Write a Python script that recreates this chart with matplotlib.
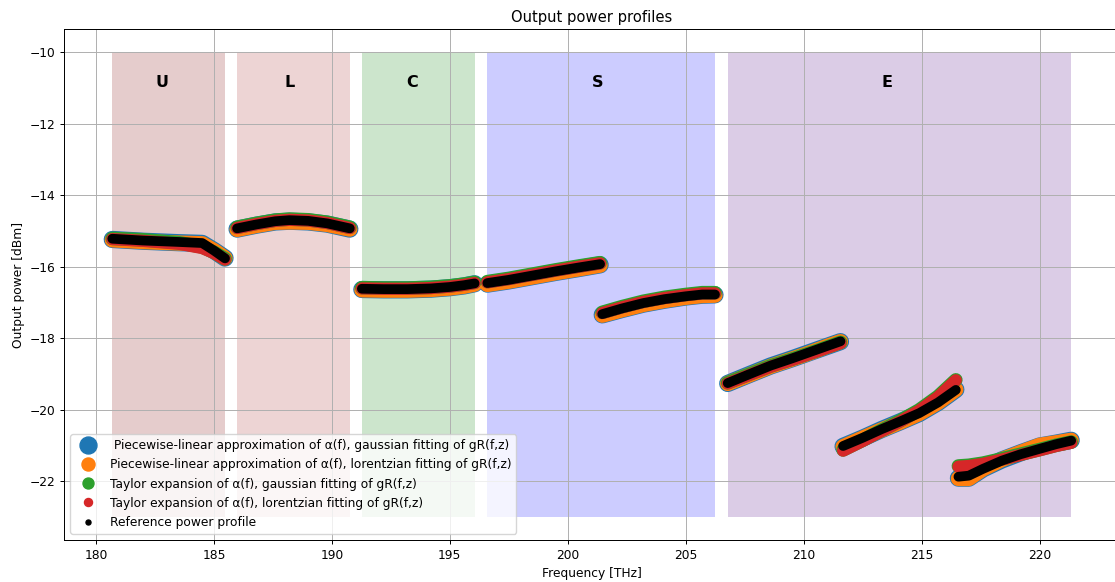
import matplotlib.pyplot as plt
from matplotlib.lines import Line2D

# the reference was rendered a little smaller than 100 dpi
SCALE = 0.886
plt.rcParams.update({
    "font.size": 10 * SCALE,
    "axes.linewidth": 0.8 * SCALE,
    "grid.linewidth": 0.8 * SCALE,
    "xtick.major.size": 3.5 * SCALE,
    "ytick.major.size": 3.5 * SCALE,
    "xtick.major.width": 0.8 * SCALE,
    "ytick.major.width": 0.8 * SCALE,
    "xtick.major.pad": 3.5 * SCALE,
    "ytick.major.pad": 3.5 * SCALE,
    "axes.titlepad": 6 * SCALE,
    "axes.labelpad": 4 * SCALE,
})

# frequency samples of each measured span [THz]
FREQ = [
    [180.69, 182.0, 183.5, 184.5, 185.0, 185.47],
    [185.98, 186.8, 187.6, 188.2, 189.0, 189.8, 190.76],
    [191.27, 192.2, 193.2, 194.2, 195.0, 195.6, 196.05],
    [196.59, 197.5, 198.5, 199.5, 200.5, 201.37],
    [201.46, 202.3, 203.2, 204.1, 205.0, 205.7, 206.24],
    [206.78, 207.7, 208.6, 209.5, 210.4, 211.0, 211.56],
    [211.67, 212.5, 213.3, 214.1, 214.9, 215.7, 216.45],
    [216.56, 217.0, 217.6, 218.4, 219.2, 220.0, 220.7, 221.34],
]

# output power [dBm]
P_REF = [
    [-15.22, -15.27, -15.31, -15.34, -15.55, -15.77],
    [-14.93, -14.82, -14.73, -14.70, -14.72, -14.79, -14.93],
    [-16.62, -16.63, -16.63, -16.61, -16.57, -16.52, -16.47],
    [-16.46, -16.37, -16.25, -16.13, -16.02, -15.93],
    [-17.33, -17.17, -17.02, -16.91, -16.83, -16.78, -16.78],
    [-19.26, -19.01, -18.77, -18.57, -18.36, -18.22, -18.09],
    [-21.02, -20.79, -20.55, -20.33, -20.10, -19.80, -19.45],
    [-21.88, -21.85, -21.66, -21.43, -21.25, -21.10, -20.97, -20.87],
]
P_PWL_GAUSS = [
    [-15.24, -15.29, -15.33, -15.35, -15.55, -15.76],
    [-14.95, -14.84, -14.75, -14.73, -14.75, -14.81, -14.95],
    [-16.64, -16.65, -16.65, -16.63, -16.59, -16.54, -16.48],
    [-16.49, -16.40, -16.28, -16.16, -16.05, -15.95],
    [-17.35, -17.20, -17.05, -16.94, -16.85, -16.80, -16.79],
    [-19.27, -19.02, -18.78, -18.58, -18.37, -18.23, -18.10],
    [-21.03, -20.80, -20.56, -20.34, -20.11, -19.80, -19.44],
    [-21.92, -21.92, -21.66, -21.41, -21.21, -21.02, -20.94, -20.86],
]
P_PWL_LOR = [
    [-15.25, -15.30, -15.34, -15.36, -15.55, -15.76],
    [-14.96, -14.85, -14.76, -14.75, -14.76, -14.82, -14.95],
    [-16.65, -16.66, -16.66, -16.64, -16.60, -16.55, -16.49],
    [-16.50, -16.41, -16.29, -16.17, -16.06, -15.96],
    [-17.36, -17.21, -17.06, -16.95, -16.86, -16.81, -16.80],
    [-19.27, -19.03, -18.79, -18.59, -18.38, -18.23, -18.10],
    [-21.04, -20.80, -20.57, -20.35, -20.11, -19.80, -19.44],
    [-21.93, -21.93, -21.66, -21.40, -21.20, -21.00, -20.93, -20.86],
]
P_TAY_GAUSS = [
    [-15.21, -15.25, -15.33, -15.45, -15.60, -15.78],
    [-14.90, -14.79, -14.70, -14.67, -14.69, -14.76, -14.90],
    [-16.59, -16.60, -16.60, -16.58, -16.54, -16.49, -16.44],
    [-16.42, -16.33, -16.21, -16.09, -15.98, -15.89],
    [-17.28, -17.12, -16.97, -16.86, -16.78, -16.73, -16.73],
    [-19.25, -19.01, -18.78, -18.59, -18.39, -18.25, -18.12],
    [-21.13, -20.86, -20.58, -20.31, -20.01, -19.63, -19.17],
    [-21.58, -21.56, -21.50, -21.38, -21.25, -21.12, -21.00, -20.91],
]
P_TAY_LOR = [
    [-15.23, -15.28, -15.36, -15.48, -15.62, -15.80],
    [-14.92, -14.81, -14.72, -14.69, -14.71, -14.78, -14.92],
    [-16.61, -16.62, -16.62, -16.60, -16.56, -16.51, -16.46],
    [-16.44, -16.35, -16.23, -16.11, -16.00, -15.91],
    [-17.30, -17.14, -16.99, -16.88, -16.80, -16.75, -16.75],
    [-19.27, -19.03, -18.80, -18.61, -18.41, -18.27, -18.14],
    [-21.15, -20.88, -20.60, -20.33, -20.03, -19.65, -19.18],
    [-21.60, -21.58, -21.52, -21.40, -21.27, -21.14, -21.02, -20.93],
]

# transmission bands
BANDS = ["U", "L", "C", "S", "E"]
BAND_START = [180.69, 185.98, 191.27, 196.59, 206.78]
BAND_END = [185.47, 190.76, 196.05, 206.24, 221.34]
BAND_LABEL_X = [182.8, 188.2, 193.4, 201.25, 213.55]
BAND_COLORS = ["maroon", "brown", "green", "blue", "indigo"]

SERIES = [
    (P_PWL_GAUSS, " Piecewise-linear approximation of α(f), gaussian fitting of gR(f,z)", "tab:blue", 12.4, 12.2),
    (P_PWL_LOR, "Piecewise-linear approximation of α(f), lorentzian fitting of gR(f,z)", "tab:orange", 11.0, 9.4),
    (P_TAY_GAUSS, "Taylor expansion of α(f), gaussian fitting of gR(f,z)", "tab:green", 9.8, 7.9),
    (P_TAY_LOR, "Taylor expansion of α(f), lorentzian fitting of gR(f,z)", "tab:red", 8.8, 5.8),
    (P_REF, "Reference power profile", "black", 7.0, 3.6),
]

fig = plt.figure(figsize=(11.15, 5.82), dpi=100)
ax = fig.add_axes([0.0577, 0.0722, 0.946, 0.878])

for start, end, color, name, lx in zip(BAND_START, BAND_END, BAND_COLORS, BANDS, BAND_LABEL_X):
    ax.fill_between([start, end], -23, -10, color=color, alpha=0.2, lw=0, zorder=1)
    ax.text(lx, -10.84, name, ha="center", va="center", fontsize=11.5, fontweight="bold")

handles = []
for z, (power, label, color, lw, ms) in enumerate(SERIES):
    for f, p in zip(FREQ, power):
        ax.plot(f, p, color=color, lw=lw, solid_capstyle="round",
                solid_joinstyle="round", zorder=3 + z)
    handles.append(Line2D([], [], ls="none", marker="o", color=color, markersize=ms, label=label))

ax.grid(True)
ax.set_title("Output power profiles")
ax.set_xlabel("Frequency [THz]")
ax.set_ylabel("Output power [dBm]")
ax.legend(handles=handles, loc="lower left")

fig.savefig("out.png", dpi=100)
